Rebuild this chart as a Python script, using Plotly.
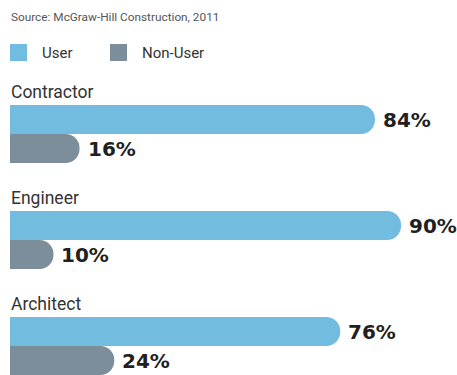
import plotly.graph_objects as go

# Survey data: share of respondents who use / do not use the technology
roles = ["Contractor", "Engineer", "Architect"]
user_pct = [84, 90, 76]
non_user_pct = [16, 10, 24]
series_names = ["User", "Non-User"]
source_text = "Source: McGraw-Hill Construction, 2011"

USER_COLOR = "#72BDDF"
NON_USER_COLOR = "#7B8E9A"
LABEL_COLOR = "#333333"
VALUE_COLOR = "#231F20"

W, H = 457, 375
X0_PX = 10          # pixel where 0% sits
PX_PER_PCT = 4.345  # horizontal scale
BAR_H = 29          # bar thickness in px
FIRST_TOP = 105     # top of the first user bar
GROUP_STEP = 106    # vertical distance between role groups


def px_x(px):
    return px / W


user_y = [FIRST_TOP + BAR_H / 2 + i * GROUP_STEP for i in range(len(roles))]
non_user_y = [y + BAR_H for y in user_y]

fig = go.Figure()
fig.add_trace(go.Bar(
    x=user_pct, y=user_y, orientation="h", width=BAR_H,
    marker=dict(color=USER_COLOR, line=dict(width=0)),
    name=series_names[0], hoverinfo="skip",
))
fig.add_trace(go.Bar(
    x=non_user_pct, y=non_user_y, orientation="h", width=BAR_H,
    marker=dict(color=NON_USER_COLOR, line=dict(width=0)),
    name=series_names[1], hoverinfo="skip",
))

annotations = []
# value labels at the end of each bar
for vals, ys in ((user_pct, user_y), (non_user_pct, non_user_y)):
    for v, y in zip(vals, ys):
        annotations.append(dict(
            x=v, y=y, xref="x", yref="y", text=f"{v}%",
            xanchor="left", yanchor="middle", xshift=6, showarrow=False,
            font=dict(family="DejaVu Sans", size=20, color=VALUE_COLOR,
                      weight="bold"),
        ))

# role headings above each group
for i, r in enumerate(roles):
    baseline = FIRST_TOP - 7 + i * GROUP_STEP
    annotations.append(dict(
        x=px_x(X0_PX - 1), y=baseline - 6, xref="paper", yref="y", text=r,
        xanchor="left", yanchor="middle", showarrow=False,
        font=dict(family="Roboto", size=17.5, color=LABEL_COLOR),
    ))

# source line
annotations.append(dict(
    x=px_x(X0_PX - 1), y=16.5, xref="paper", yref="y", text=source_text,
    xanchor="left", yanchor="middle", showarrow=False,
    font=dict(family="Roboto", size=11.8, color="#555555"),
))

# legend: swatches and names
shapes = []
legend_items = [(series_names[0], USER_COLOR, 10, 40),
                (series_names[1], NON_USER_COLOR, 110, 140)]
for name, color, sx, tx in legend_items:
    shapes.append(dict(
        type="rect", xref="paper", yref="y",
        x0=px_x(sx), x1=px_x(sx + 17), y0=44, y1=61,
        fillcolor=color, line=dict(width=0),
    ))
    annotations.append(dict(
        x=px_x(tx), y=53, xref="paper", yref="y", text=name,
        xanchor="left", yanchor="middle", showarrow=False,
        font=dict(family="Roboto", size=15, color=LABEL_COLOR),
    ))

fig.update_layout(
    width=W, height=H,
    margin=dict(l=0, r=0, t=0, b=0),
    paper_bgcolor="white", plot_bgcolor="white",
    showlegend=False,
    barmode="overlay",
    barcornerradius=14,
    annotations=annotations,
    shapes=shapes,
    xaxis=dict(range=[-X0_PX / PX_PER_PCT, (W - X0_PX) / PX_PER_PCT],
               visible=False, fixedrange=True),
    yaxis=dict(range=[H, 0], visible=False, fixedrange=True),
)

fig.write_html("out.html", config={"displayModeBar": False})
